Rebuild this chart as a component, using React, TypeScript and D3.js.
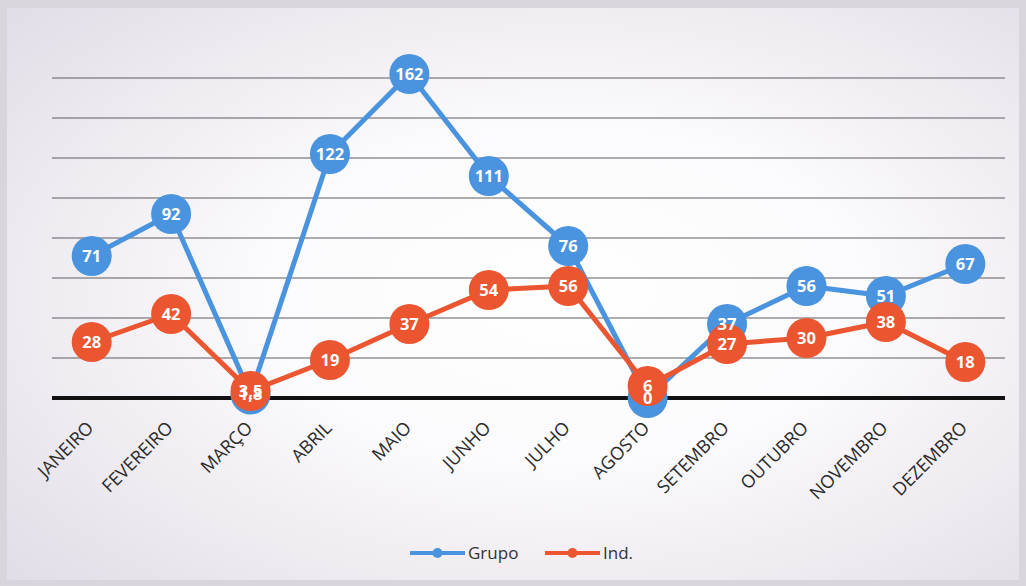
import React from "react";
import * as d3 from "d3";

const months = [
  "JANEIRO", "FEVEREIRO", "MARÇO", "ABRIL", "MAIO", "JUNHO",
  "JULHO", "AGOSTO", "SETEMBRO", "OUTUBRO", "NOVEMBRO", "DEZEMBRO",
];
const grupo = [71, 92, 1.8, 122, 162, 111, 76, 0, 37, 56, 51, 67];
const ind = [28, 42, 3.5, 19, 37, 54, 56, 6, 27, 30, 38, 18];
const gridTicks = [20, 40, 60, 80, 100, 120, 140, 160];

const W = 1026;
const H = 586;
const plot = { left: 52, right: 1005, top: 78, bottom: 398 };

const BLUE = "#4A93DE";
const RED = "#EB5530";
const FONT = "'Open Sans', 'Noto Sans', sans-serif";

const fmt = (v: number) => String(v).replace(".", ",");

export default function App() {
  const x = d3
    .scaleBand<string>()
    .domain(months)
    .range([plot.left, plot.right]);
  const cx = (m: string) => (x(m) ?? 0) + x.bandwidth() / 2;
  const y = d3.scaleLinear().domain([0, 160]).range([plot.bottom, plot.top]);

  const line = d3
    .line<number>()
    .x((_, i) => cx(months[i]))
    .y((d) => y(d));

  const series = [
    { name: "Grupo", values: grupo, color: BLUE },
    { name: "Ind.", values: ind, color: RED },
  ];

  return (
    <svg
      width={W}
      height={H}
      style={{ position: "absolute", left: 0, top: 0 }}
      fontFamily={FONT}
    >
      <defs>
        <radialGradient id="bg" cx="0.55" cy="0.5" r="0.75">
          <stop offset="0" stopColor="#ffffff" />
          <stop offset="0.4" stopColor="#fbfafc" />
          <stop offset="1" stopColor="#e1dce6" />
        </radialGradient>
      </defs>
      <rect x={0} y={0} width={W} height={H} fill="#d9d5dc" />
      <rect x={7} y={8} width={W - 14} height={H - 14} fill="url(#bg)" />

      {/* horizontal gridlines */}
      {gridTicks.map((t) => (
        <line
          key={t}
          x1={plot.left}
          x2={plot.right}
          y1={y(t)}
          y2={y(t)}
          stroke="#5f5c63"
          strokeWidth={1.2}
        />
      ))}
      {/* zero baseline */}
      <line
        x1={plot.left}
        x2={plot.right}
        y1={y(0)}
        y2={y(0)}
        stroke="#111"
        strokeWidth={4}
      />

      {/* category labels */}
      {months.map((m) => (
        <text
          key={m}
          transform={`translate(${cx(m) + 3},${plot.bottom + 31}) rotate(-45)`}
          textAnchor="end"
          fontSize={18}
          fill="#2b2b2b"
        >
          {m}
        </text>
      ))}

      {/* lines and markers */}
      {series.map((s) => (
        <g key={s.name}>
          <path
            d={line(s.values) ?? ""}
            fill="none"
            stroke={s.color}
            strokeWidth={5}
            strokeLinejoin="round"
          />
          {s.values.map((v, i) => (
            <circle key={i} cx={cx(months[i])} cy={y(v)} r={20} fill={s.color} />
          ))}
        </g>
      ))}

      {/* data labels */}
      {series.map((s) => (
        <g key={s.name + "-labels"}>
          {s.values.map((v, i) => (
            <text
              key={i}
              x={cx(months[i])}
              y={y(v)}
              dy="0.36em"
              textAnchor="middle"
              fontSize={16.5}
              fontWeight="bold"
              fill="#ffffff"
            >
              {fmt(v)}
            </text>
          ))}
        </g>
      ))}

      {/* legend */}
      {series.map((s, i) => {
        const lx = i === 0 ? 410 : 545;
        const ly = 553;
        return (
          <g key={s.name + "-legend"}>
            <line x1={lx} x2={lx + 55} y1={ly} y2={ly} stroke={s.color} strokeWidth={4} />
            <circle cx={lx + 27.5} cy={ly} r={5} fill={s.color} />
            <text x={lx + 58} y={ly} dy="0.36em" fontSize={17} fill="#333">
              {s.name}
            </text>
          </g>
        );
      })}
    </svg>
  );
}
